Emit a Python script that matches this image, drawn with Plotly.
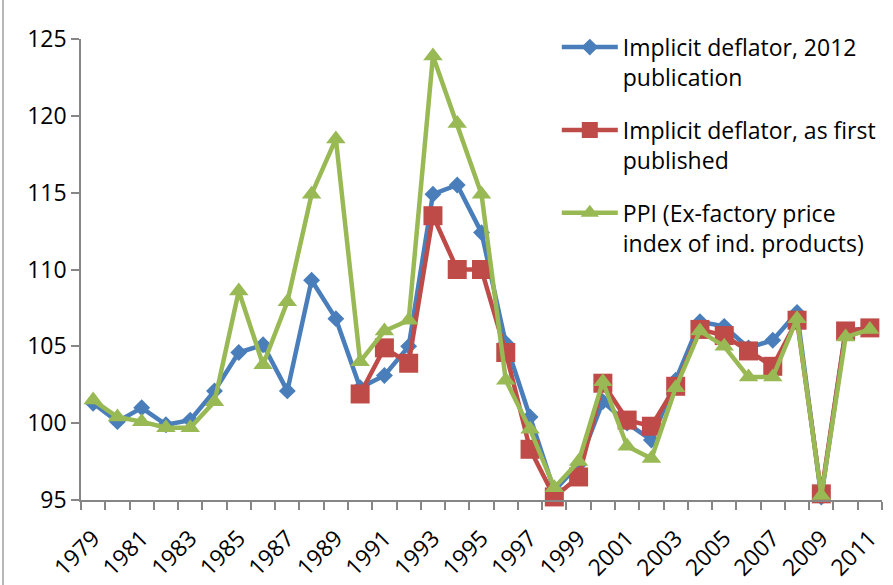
import plotly.graph_objects as go

years = list(range(1979, 2012))
tick_years = list(range(1979, 2012, 2))
tick_labels = [str(y) for y in tick_years]
y_ticks = [95, 100, 105, 110, 115, 120, 125]

deflator_2012 = [101.3, 100.1, 101.0, 99.9, 100.2, 102.1, 104.6, 105.1, 102.1, 109.3,
                 106.8, 102.3, 103.1, 105.0, 114.9, 115.5, 112.4, 105.2, 100.4, 95.6,
                 97.3, 101.4, 100.0, 98.9, 102.8, 106.6, 106.3, 104.9, 105.4, 107.2,
                 95.2, 106.0, 106.2]
deflator_first = [None] * 11 + [101.9, 104.9, 103.9, 113.5, 110.0, 110.0, 104.6, 98.3, 95.2,
                                96.5, 102.6, 100.2, 99.8, 102.4, 106.1, 105.7, 104.7, 103.7,
                                106.7, 95.4, 106.0, 106.2]
ppi = [101.5, 100.4, 100.1, 99.7, 99.7, 101.4, 108.6, 103.8, 107.9, 114.9,
       118.5, 104.0, 106.0, 106.7, 123.9, 119.5, 114.9, 102.8, 99.6, 95.8,
       97.5, 102.7, 98.5, 97.7, 102.3, 106.0, 105.0, 103.0, 103.0, 106.8,
       95.3, 105.6, 106.1]

names = ["Implicit deflator, 2012<br>publication",
         "Implicit deflator, as first<br>published",
         "PPI (Ex-factory price<br>index of ind. products)"]
colors = ["#4A7EBB", "#BE4B48", "#98B954"]
symbols = ["diamond", "square", "triangle-up"]
sizes = [13, 19, 17]
series = [deflator_2012, deflator_first, ppi]

FONT = "Open Sans"
FS = 23

fig = go.Figure()
for i, (vals, nm, col, sym, sz) in enumerate(zip(series, names, colors, symbols, sizes)):
    fig.add_trace(go.Scatter(
        x=years, y=vals, name=nm, mode="lines+markers",
        line=dict(color=col, width=4.5),
        marker=dict(symbol=sym, size=sz, color=col),
        legendgroup=f"g{i}", cliponaxis=False, connectgaps=False,
    ))

fig.update_layout(
    width=893, height=585,
    margin=dict(l=81, r=11, t=39, b=85, autoexpand=False),
    paper_bgcolor="white", plot_bgcolor="white",
    font=dict(family=FONT, size=FS, color="black"),
    showlegend=True,
    legend=dict(x=0.594, y=1.029, xanchor="left", yanchor="top",
                font=dict(family=FONT, size=FS, color="black"),
                tracegroupgap=20, itemwidth=56, valign="top",
                bgcolor="rgba(0,0,0,0)"),
    xaxis=dict(range=[1978.5, 2011.5], tickmode="array", tickvals=tick_years,
               ticktext=tick_labels, tickangle=-45, ticks="", showgrid=False,
               showline=True, linecolor="#868686", linewidth=1.5, zeroline=False,
               ticklabelstandoff=14,
               minor=dict(dtick=1, tick0=1978.5, ticks="outside", ticklen=8,
                          tickcolor="#868686", tickwidth=1.5, showgrid=False),
               tickfont=dict(family=FONT, size=FS)),
    yaxis=dict(range=[95, 125], tickmode="array", tickvals=y_ticks,
               ticks="outside", ticklen=8, tickcolor="#868686", tickwidth=1.5,
               showgrid=False, showline=True, linecolor="#868686", linewidth=1.5,
               zeroline=False, ticklabelstandoff=0,
               tickfont=dict(family=FONT, size=FS)),
)
fig.add_shape(type="line", xref="paper", yref="paper",
              x0=-78/801, x1=-78/801, y0=-85/461, y1=1 + 39/461,
              line=dict(color="#A0A0A0", width=1.5))

fig.write_html("out.html", config={"displayModeBar": False},
               post_script="document.body.style.margin='0';")
